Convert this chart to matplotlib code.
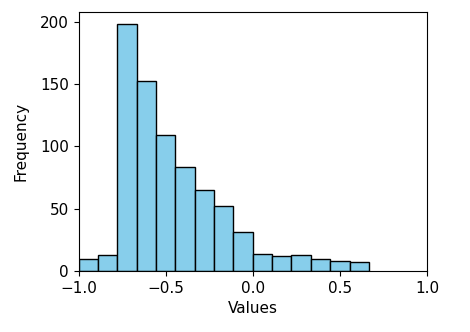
import numpy as np
import matplotlib
matplotlib.use("Agg")
import matplotlib.pyplot as plt

bin_edges = np.linspace(-1.0, 2/3, 16)
counts = [10, 13, 198, 152, 109, 83, 65, 52, 31, 14, 12, 13, 10, 8, 7]
x_ticks = [-1.0, -0.5, 0.0, 0.5, 1.0]
y_ticks = [0, 50, 100, 150, 200]

centers = (bin_edges[:-1] + bin_edges[1:]) / 2

plt.rcParams['font.size'] = 11
fig = plt.figure(figsize=(4.7, 3.32), dpi=100)
ax = fig.add_axes([78.5/470, (332-271)/332, (427-78.5)/470, (271-11.7)/332])
ax.hist(centers, bins=bin_edges, weights=counts, color="skyblue", edgecolor="black")
ax.set_xlim(-1.0, 1.0)
ax.set_xticks(x_ticks)
ax.set_yticks(y_ticks)
ax.set_xlabel("Values", labelpad=4)
ax.set_ylabel("Frequency", labelpad=8)
fig.savefig("out.png", dpi=100)
